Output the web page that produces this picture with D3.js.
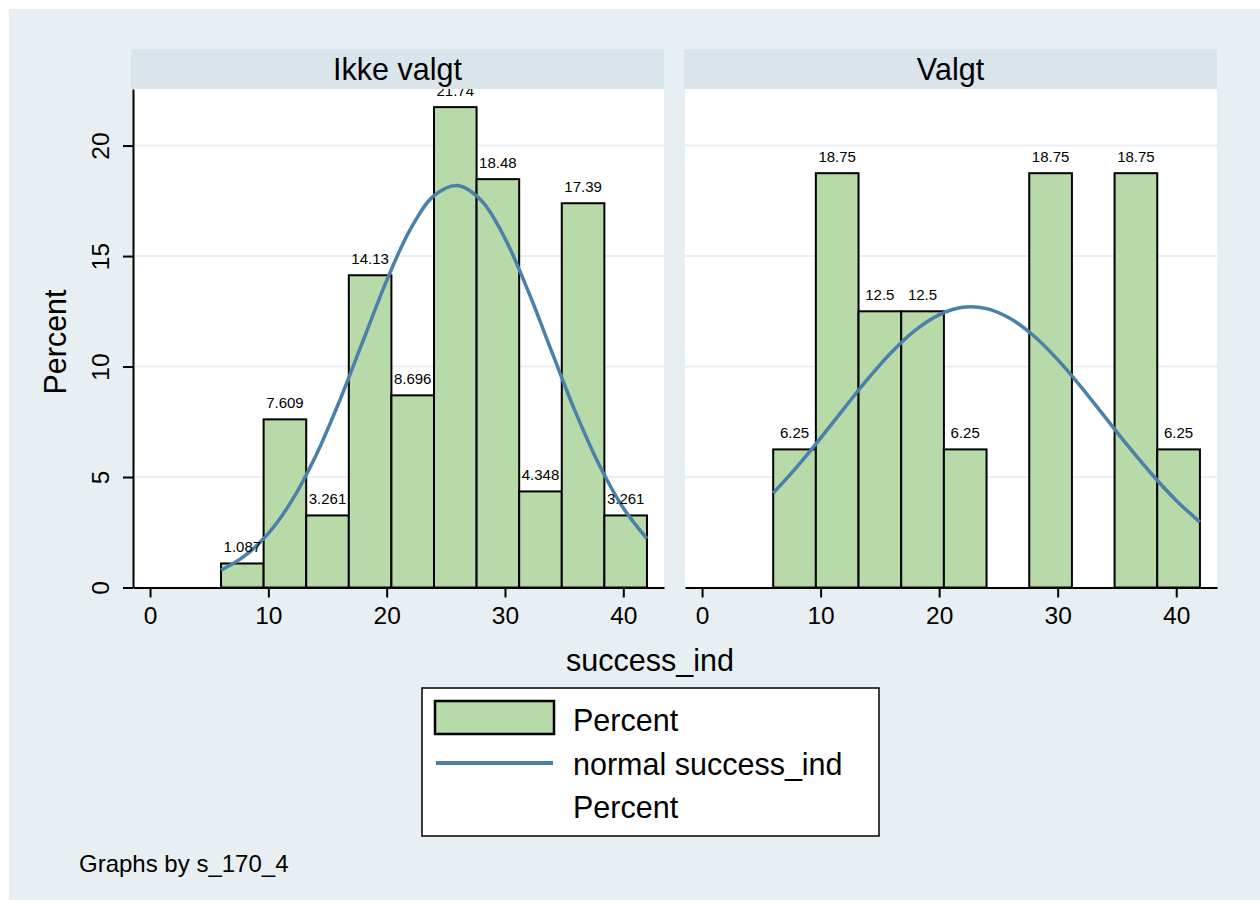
<!DOCTYPE html>
<html>
<head>
<meta charset="utf-8">
<script src="https://cdn.jsdelivr.net/npm/d3@7"></script>
<style>
  html, body { margin: 0; padding: 0; background: #ffffff; }
  svg { display: block; }
  text { font-family: "Liberation Sans", Arial, Helvetica, sans-serif; fill: #000; }
</style>
</head>
<body>
<svg id="chart" width="1260" height="906"></svg>
<script>
// ---- data ----
const panels = ["Ikke valgt", "Valgt"];
const binEdges = [6, 9.6, 13.2, 16.8, 20.4, 24, 27.6, 31.2, 34.8, 38.4, 42];
const percentIkkeValgt = [1.087, 7.609, 3.261, 14.13, 8.696, 21.74, 18.48, 4.348, 17.39, 3.261];
const percentValgt = [6.25, 18.75, 12.5, 12.5, 6.25, 0, 18.75, 0, 18.75, 6.25];
const curveX = [6, 8, 10, 12, 14, 16, 18, 20, 22, 24, 26, 28, 30, 32, 34, 36, 38, 40, 42];
const normalIkkeValgt = [0.78, 1.43, 2.45, 3.94, 5.95, 8.42, 11.16, 13.89, 16.21, 17.73, 18.19, 17.51, 15.80, 13.36, 10.61, 7.89, 5.51, 3.60, 2.21];
const normalValgt = [4.27, 5.46, 6.76, 8.12, 9.45, 10.66, 11.65, 12.34, 12.68, 12.62, 12.17, 11.38, 10.31, 9.06, 7.71, 6.36, 5.09, 3.94, 2.96];
const xTicks = [0, 10, 20, 30, 40];
const yTicks = [0, 5, 10, 15, 20];
const gridTicks = [5, 10, 15, 20];
const legendLabels = ["Percent", "normal success_ind", "Percent"];
const xTitle = "success_ind";
const yTitle = "Percent";
const note = "Graphs by s_170_4";

// ---- styles ----
const FILL = "#b8d9a8";
const LINE = "#4a80aa";
const BG = "#e8eff2";
const STRIP = "#d9e5eb";
const GRID = "#e8f0f3";
const BIG = "30.5px";

const svg = d3.select("#chart");
svg.append("rect").attr("x", 9).attr("y", 9).attr("width", 1251).attr("height", 891).attr("fill", BG);

const plotTop = 89, plotBottom = 587.5;
const y = d3.scaleLinear().domain([0, 22.56]).range([plotBottom, plotTop]);

const panelDefs = [
  { name: panels[0], values: percentIkkeValgt, curve: normalIkkeValgt, left: 133, right: 664, stripL: 131, stripR: 664, yAxis: true },
  { name: panels[1], values: percentValgt, curve: normalValgt, left: 685, right: 1217, stripL: 684, stripR: 1217, yAxis: false }
];

panelDefs.forEach(p => {
  const x = d3.scaleLinear().domain([-1.44, 43.44]).range([p.left, p.right]);
  const g = svg.append("g");

  g.append("rect").attr("x", p.left).attr("y", plotTop)
    .attr("width", p.right - p.left).attr("height", plotBottom - plotTop).attr("fill", "#ffffff");

  g.selectAll("line.grid").data(gridTicks).join("line")
    .attr("x1", p.left).attr("x2", p.right)
    .attr("y1", d => y(d)).attr("y2", d => y(d))
    .attr("stroke", GRID).attr("stroke-width", 2);

  const bins = p.values.map((v, i) => ({ x0: binEdges[i], x1: binEdges[i + 1], v }))
    .filter(b => b.v > 0);

  g.selectAll("rect.bar").data(bins).join("rect")
    .attr("x", d => x(d.x0)).attr("width", d => x(d.x1) - x(d.x0))
    .attr("y", d => y(d.v)).attr("height", d => y(0) - y(d.v))
    .attr("fill", FILL).attr("stroke", "#000").attr("stroke-width", 2);

  const line = d3.line().x((d, i) => x(curveX[i])).y(d => y(d)).curve(d3.curveCatmullRom);
  g.append("path").datum(p.curve).attr("d", line)
    .attr("fill", "none").attr("stroke", LINE).attr("stroke-width", 3.5);

  g.selectAll("text.lab").data(bins).join("text")
    .attr("x", d => x((d.x0 + d.x1) / 2)).attr("y", d => y(d.v) - 11)
    .attr("text-anchor", "middle").style("font-size", "15px")
    .text(d => d.v);

  // strip
  g.append("rect").attr("x", p.stripL).attr("y", 49).attr("width", p.stripR - p.stripL).attr("height", 40)
    .attr("fill", STRIP);
  g.append("text").attr("x", (p.stripL + p.stripR) / 2).attr("y", 80)
    .attr("text-anchor", "middle").style("font-size", BIG).text(p.name);

  // x axis
  const xa = g.append("g").attr("transform", `translate(0,${plotBottom})`)
    .call(d3.axisBottom(x).tickValues(xTicks).tickSize(10).tickSizeOuter(0).tickPadding(9));
  xa.select(".domain").attr("stroke", "#000").attr("stroke-width", 2);
  xa.selectAll(".tick line").attr("stroke", "#000").attr("stroke-width", 2);
  xa.selectAll(".tick text").style("font-size", "24.5px").attr("fill", "#000")
    .style("font-family", '"Liberation Sans", Arial, sans-serif');

  if (p.yAxis) {
    const ya = g.append("g").attr("transform", `translate(${p.left},0)`)
      .call(d3.axisLeft(y).tickValues(yTicks).tickSize(10).tickSizeOuter(0));
    ya.select(".domain").attr("stroke", "#000").attr("stroke-width", 2);
    ya.selectAll(".tick line").attr("stroke", "#000").attr("stroke-width", 2);
    ya.selectAll(".tick text")
      .attr("x", null).attr("dy", null)
      .attr("transform", "translate(-24,0) rotate(-90)")
      .attr("text-anchor", "middle")
      .style("font-size", "24.5px").attr("fill", "#000")
      .style("font-family", '"Liberation Sans", Arial, sans-serif');
  }
});

// axis titles
svg.append("text").attr("x", 650).attr("y", 671).attr("text-anchor", "middle")
  .style("font-size", BIG).text(xTitle);
svg.append("text").attr("transform", "translate(66,342) rotate(-90)").attr("text-anchor", "middle")
  .style("font-size", BIG).text(yTitle);

// legend
const lg = svg.append("g");
lg.append("rect").attr("x", 422).attr("y", 688).attr("width", 457).attr("height", 148)
  .attr("fill", "#fff").attr("stroke", "#000").attr("stroke-width", 1.5);
lg.append("rect").attr("x", 435).attr("y", 701).attr("width", 119).attr("height", 33)
  .attr("fill", FILL).attr("stroke", "#000").attr("stroke-width", 2.5);
lg.append("line").attr("x1", 436).attr("x2", 553).attr("y1", 763).attr("y2", 763)
  .attr("stroke", LINE).attr("stroke-width", 4);
const legY = [731, 775, 818];
lg.selectAll("text.leg").data(legendLabels).join("text")
  .attr("x", 573).attr("y", (d, i) => legY[i]).style("font-size", BIG).text(d => d);

// note
svg.append("text").attr("x", 79).attr("y", 872).style("font-size", "24px").text(note);
</script>
</body>
</html>
